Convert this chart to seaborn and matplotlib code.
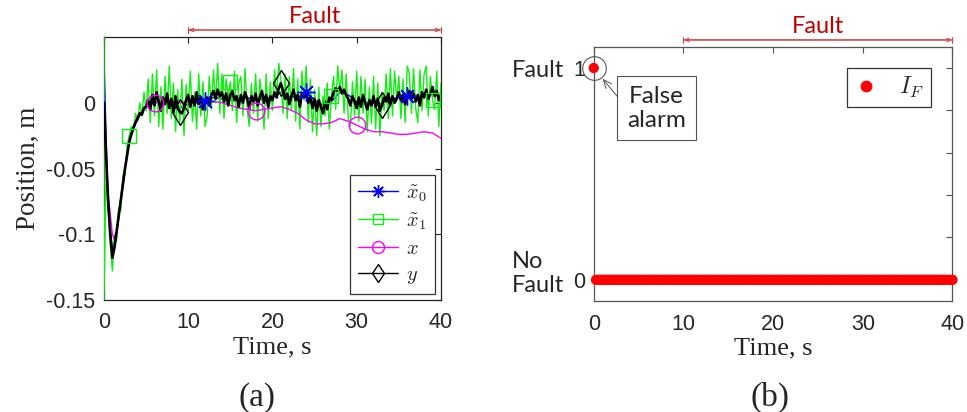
import numpy as np
import pandas as pd
import matplotlib
matplotlib.use("Agg")
import matplotlib.pyplot as plt
from matplotlib.lines import Line2D
import seaborn as sns

# ---- data (positions in mm, time in s) ----
t = np.linspace(0, 40, 161)   # 0.25 s sampling grid

y_meas_mm = ([0, -40, -75, -100, -118, -110, -98, -86, -74, -62, -50, -40, -30, -24, -19, -15, -12, -8, -9, -4, -3]
             + [2, -5, 6, -2, 8, 1, -6, 4, -1, 7, -4, 3, -7, 5, -4, -7, -8, -4, 2, 6, -3, 5, -2, 8, -1, 4, -5, 2]
             + [4, -2, 6, 9, 3, 10, 5, 8, 1, 7, -2, 6, 9, 2, 5, -3, 6, 0, 8, 3, -4, 5, 1, 7,
                -2, 4, 9, 0, 6, -3, 5, 2, 8, 4, 11, 15, 9, 3, 7, -1, 5, 10, 2, 6, -3, 7, 4, 8,
                0, 5, -4, 3, -6, 2, -3, -8, 1, -5, 4, 2, 8, 11, 9, 12, 7, 10, 6, 3, -2, 5, 1, -4,
                4, -3, 6, 0, -5, 2, -2, 5, -3, 3, -6, -2, 4, 1, 7, -1, 5, 0, 3, 8, 2, 6, -1, 5,
                9, 3, 7, 1, 6, -2, 8, 4, 10, 3, 7, 12, 5, 9, 2, 6])

t_x1 = np.concatenate([[0], t])
x1_mm = ([60]
         + [-150, -55, -80, -108, -128, -100, -105, -80, -82, -55, -55, -32, -25, -18, -22, -8, -14, 0, -10, 8, -6]
         + [18, -15, 22, -10, 25, -18, 12, -20, 20, -8, 28, -12, 15, -22, 10, -15, 18, -25, 14, -6, 24, -14, 8, -20, 22, -10, 16, -18]
         + [-10, 20, -5, 25, 0, 30, -8, 22, -12, 18, 5, 16, -6, 24, -15, 15, 20, -10, 26, -5,
            -18, 15, -8, 22, -14, 18, 4, -20, 22, -12, 16, -6, 25, 5, 30, 18, -8, 22, -12, 20,
            -6, 26, -14, 18, -20, 24, 2, 28, -15, 18, -22, 10, -25, 12, -18, 5, -10, 15, -20, 5,
            20, -5, 28, 8, 25, -8, 22, -12, -18, 16, -10, 24, -14, 20, -8, 18, -22, 12, -16, 20,
            -20, 15, -25, 8, -6, 22, -12, 26, -10, 24, 2, 20, -12, 18, -15, 28, 22, -8, 26, -4,
            -15, 25, -6, 22, 28, -10, 20, 2, -5, 24, -18, 15])

t_x0 = [0, 0.02, 0.5, 1, 1.5, 2, 2.5, 3] + list(range(4, 41))
x0_mm = ([0, 28, -80, -112, -100, -75, -50, -28]
         + [-12, -3, 0, 1, -2, -4, -1, 0, 1, 4, 3, 5, 3, 4, 2, 3, 4, 8, 5, 4, 8, 2, -2, 1, 8,
            6, 1, 0, 0, -1, 3, 4, 5, 4, 6, 7, 5])

t_x = [0, 0.5, 1, 1.25, 1.5, 2, 2.5, 3, 3.5, 4] + list(range(5, 41))
x_mm = ([0, -70, -100, -104, -98, -72, -48, -28, -18, -10]
        + [-3, 0, 1, 1, 0, 1, 1, 1, 1, 0, -2, -4, -5, -6, -5, -4, -3, -5, -8, -13, -16, -16,
           -15, -12, -14, -17, -20, -22, -22, -23, -24, -24, -23, -22, -23, -27])

# marker times for each series
mark_x0 = [12, 24, 36]
mark_x1 = [3, 15, 27, 39]
mark_x = [6, 18, 30]
mark_y = [9, 21, 33]

# fault indicator (b)
fault_flag = [1] + [0] * 160
fault_start, fault_end = 10, 40

# ---- style ----
sns.set_style("white")
plt.rcParams['font.family'] = ['Liberation Sans', 'DejaVu Sans']
plt.rcParams['mathtext.fontset'] = 'cm'
plt.rcParams['axes.unicode_minus'] = False
plt.rcParams['xtick.direction'] = 'in'
plt.rcParams['ytick.direction'] = 'in'

c_x0, c_x1, c_x, c_y = '#0000ff', '#11ee11', '#ff00ff', '#000000'
fault_red = '#c00000'
serif = 'Liberation Serif'
calibri_like = 'Lato'

fig = plt.figure(figsize=(9.67, 4.12), dpi=100)
ax1 = fig.add_axes([0.1075, 0.272, 0.3485, 0.638])
ax2 = fig.add_axes([0.614, 0.2694, 0.371, 0.617])

df0 = pd.DataFrame({'t': t_x0, 'v': np.array(x0_mm) / 1000})
df1 = pd.DataFrame({'t': t_x1, 'v': np.array(x1_mm) / 1000})
dfx = pd.DataFrame({'t': t_x, 'v': np.array(x_mm) / 1000})
dfy = pd.DataFrame({'t': t, 'v': np.array(y_meas_mm) / 1000})

# (frame, colour, marker times, marker, marker size, fill, line width)
series = [(df0, c_x0, mark_x0, (8, 2, 0), 13, 'full', 1.0),
          (df1, c_x1, mark_x1, 's', 10, 'none', 1.0),
          (dfx, c_x, mark_x, 'o', 12, 'none', 1.0),
          (dfy, c_y, mark_y, 'd', 13, 'none', 1.9)]

for i, (d, c, mk, m, ms, fill, lw) in enumerate(series):
    sns.lineplot(data=d, x='t', y='v', ax=ax1, color=c, lw=lw, estimator=None, sort=False,
                 zorder=2 + i)
for i, (d, c, mk, m, ms, fill, lw) in enumerate(series):
    sel = d[d['t'].isin(mk)]
    ax1.plot(sel['t'], sel['v'], ls='none', marker=m, ms=ms, mec=c,
             mfc=c if fill == 'full' else 'none', mew=1.0, zorder=8)

ax1.set_xlim(0, 40)
ax1.set_ylim(-0.15, 0.05)
ax1.set_xticks([0, 10, 20, 30, 40])
ax1.set_yticks([-0.15, -0.1, -0.05, 0])
ax1.set_yticklabels(['-0.15', '-0.1', '-0.05', '0'])
ax1.tick_params(axis='both', labelsize=15.5, length=4, width=0.8, top=True, right=True,
                color='#222222')
ax1.tick_params(axis='x', pad=9)
ax1.tick_params(axis='y', pad=6)
ax1.set_xlabel('Time, s', fontsize=19, family=serif, labelpad=2)
ax1.set_ylabel('Position, m', fontsize=19.5, family=serif, labelpad=4)
for s in ax1.spines.values():
    s.set_color('#222222')
    s.set_linewidth(0.9)

handles = [Line2D([], [], color=c, lw=1.0, marker=m, ms=ms * 0.72, mec=c,
                  mfc=c if fill == 'full' else 'none', mew=1.0)
           for (d, c, mk, m, ms, fill, lw) in series]
leg1 = ax1.legend(handles, [r'$\tilde{x}_0$', r'$\tilde{x}_1$', r'$x$', r'$y$'],
                  loc='lower right', fontsize=14.5, frameon=True, fancybox=False,
                  framealpha=1, edgecolor='#333333', handlelength=2.0,
                  labelspacing=0.35, borderaxespad=0.3, handletextpad=0.4,
                  borderpad=0.4)
leg1.get_frame().set_linewidth(0.9)

# ---- panel (b) ----
sns.scatterplot(x=t, y=fault_flag, ax=ax2, color='red', s=55, edgecolor='none',
                zorder=3, clip_on=False, legend=False)
ax2.set_xlim(0, 40)
ax2.set_ylim(-0.1, 1.1)
ax2.set_xticks([0, 10, 20, 30, 40])
ax2.set_yticks([0, 0.2, 0.4, 0.6, 0.8, 1.0])
ax2.set_yticklabels(['0', '', '', '', '', '1'])
ax2.tick_params(axis='both', labelsize=15.5, length=4, width=0.8, top=True, right=True,
                color='#555555')
ax2.tick_params(axis='x', pad=9)
ax2.tick_params(axis='y', pad=6)
ax2.set_xlabel('Time, s', fontsize=19, family=serif, labelpad=2, color='#222222')
ax2.set_ylabel('')
for s in ax2.spines.values():
    s.set_color('#555555')
    s.set_linewidth(0.9)

ytr = ax2.get_yaxis_transform()
ax2.text(-0.228, 0.99, 'Fault', transform=ytr, ha='left', va='center', fontsize=17,
         family=calibri_like)
ax2.text(-0.228, 0.03, 'No\nFault', transform=ytr, ha='left', va='center', fontsize=17,
         family=calibri_like, linespacing=1.2)

# false alarm marking
ax2.plot(t[0], fault_flag[0], marker='o', ms=17, mfc='none', mec='#555555', mew=0.8,
         clip_on=False, zorder=4)
ax2.annotate('False\nalarm', xy=(t[0], fault_flag[0]), xytext=(7.0, 0.81), ha='center',
             va='center', fontsize=17.5, family=calibri_like, linespacing=1.15,
             bbox=dict(boxstyle='square,pad=0.4', fc='white', ec='#555555', lw=0.8),
             arrowprops=dict(arrowstyle='->,head_length=0.35,head_width=0.15',
                             color='#555555', lw=0.7, shrinkA=0, shrinkB=10,
                             relpos=(0, 0.5)))

h2 = [Line2D([], [], ls='none', marker='o', color='red', ms=7.5)]
leg2 = ax2.legend(h2, [r'$I_F$'], loc='upper right', fontsize=17, frameon=True,
                  fancybox=False, framealpha=1, edgecolor='#333333', handlelength=1.0,
                  borderaxespad=0.9, borderpad=0.3, handletextpad=0.9)
leg2.get_frame().set_linewidth(0.9)

# fault interval arrows above each panel
for ax, ytxt in [(ax1, 1.08), (ax2, 1.079)]:
    yarr = 1.027
    for style in ['<->,head_length=0.3,head_width=0.12', '|-|,widthA=0.2,widthB=0.2']:
        ax.annotate('', xy=(fault_end, yarr), xytext=(fault_start, yarr),
                    xycoords=('data', 'axes fraction'), textcoords=('data', 'axes fraction'),
                    arrowprops=dict(arrowstyle=style, color='#d04545', lw=0.8,
                                    shrinkA=0, shrinkB=0), annotation_clip=False)
    ax.text((fault_start + fault_end) / 2, ytxt, 'Fault', transform=ax.get_xaxis_transform(),
            ha='center', va='center', fontsize=17, color=fault_red, family=calibri_like)

fig.text(0.266, 0.036, '(a)', ha='center', va='center', fontsize=24, family=serif)
fig.text(0.796, 0.036, '(b)', ha='center', va='center', fontsize=24, family=serif)

fig.savefig('out.png', dpi=100)
